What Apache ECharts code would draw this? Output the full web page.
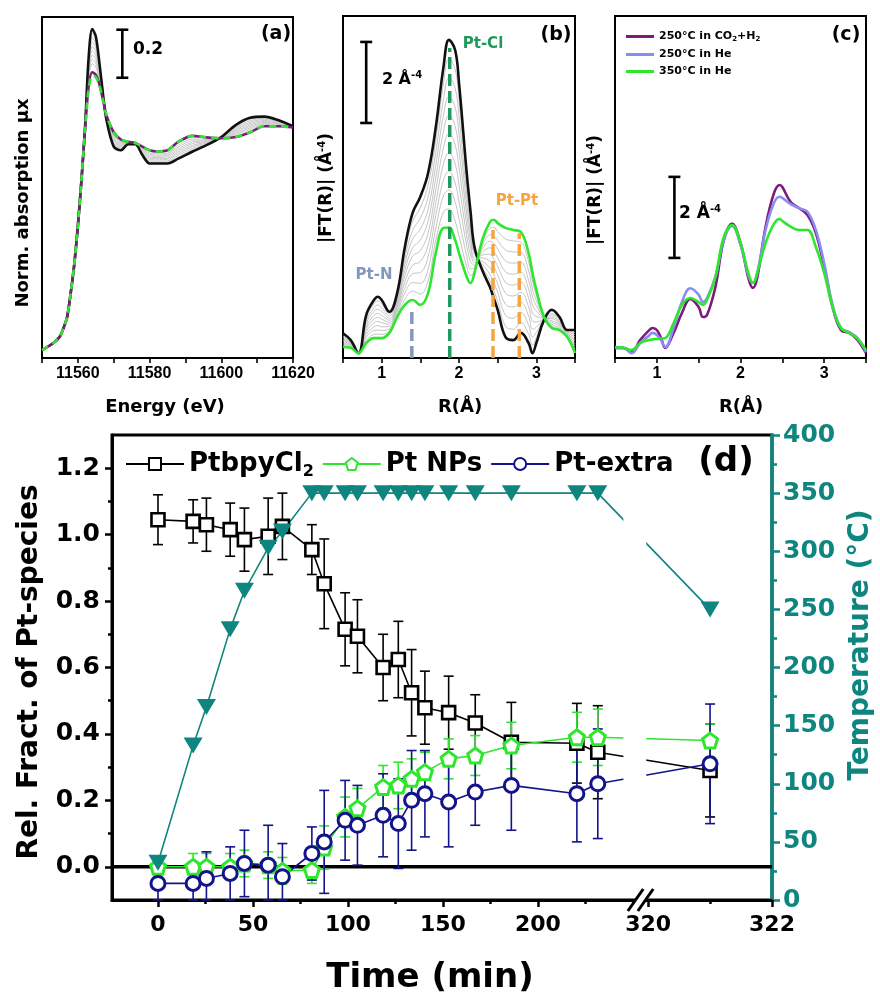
<!DOCTYPE html>
<html><head><meta charset="utf-8">
<script src="https://cdn.jsdelivr.net/npm/echarts@6/dist/echarts.min.js"></script>
<style>html,body{margin:0;padding:0;background:#fff}#c{width:880px;height:1001px}</style>
</head><body><div id="c"></div>
<script>
// ---------- Panel (a): XANES ----------
const E_A = [11550,11553,11555,11556,11557,11558,11559,11560,11561,11562,11563,11564,11565,11566,11567,11568,11570,11572,11574,11576,11578,11580,11582,11585,11588,11592,11595,11600,11604,11608,11612,11616,11620];
const A_BLACK  = [.033,.06,.09,.125,.17,.27,.39,.55,.74,.96,1.25,1.37,1.34,1.23,1.10,.99,.88,.865,.89,.89,.845,.81,.81,.81,.83,.86,.88,.92,.97,1.0,1.005,.99,.965];
const A_PURPLE = [.033,.06,.09,.125,.17,.27,.39,.55,.74,.95,1.13,1.19,1.18,1.14,1.075,1.01,.94,.91,.90,.895,.88,.865,.86,.865,.90,.925,.92,.915,.92,.94,.965,.965,.96];
const A_GREEN  = [.033,.06,.09,.125,.17,.27,.39,.55,.74,.95,1.12,1.175,1.17,1.135,1.075,1.01,.94,.91,.90,.895,.88,.865,.86,.865,.90,.925,.92,.915,.92,.94,.965,.965,.96];
const A_GREY1 = [.033,.06,.09,.125,.17,.27,.39,.55,.74,.959,1.238,1.352,1.324,1.221,1.098,.992,.886,.874,.891,.891,.849,.816,.815,.816,.837,.867,.884,.920,.965,.994,1.001,.988,.965];
const A_GREY2 = [.033,.06,.09,.125,.17,.27,.39,.55,.74,.958,1.226,1.334,1.308,1.212,1.095,.994,.892,.878,.892,.891,.852,.821,.820,.821,.844,.873,.888,.919,.960,.988,.997,.985,.964];
const A_GREY3 = [.033,.06,.09,.125,.17,.27,.39,.55,.74,.957,1.214,1.316,1.292,1.203,1.093,.996,.898,.882,.893,.892,.856,.827,.825,.827,.851,.880,.892,.919,.955,.982,.993,.983,.964];
const A_GREY4 = [.033,.06,.09,.125,.17,.27,.39,.55,.74,.956,1.202,1.298,1.276,1.194,1.090,.998,.904,.886,.894,.892,.859,.832,.830,.832,.858,.886,.896,.918,.950,.976,.989,.980,.963];
const A_GREY5 = [.033,.06,.09,.125,.17,.27,.39,.55,.74,.955,1.190,1.280,1.260,1.185,1.088,1.000,.910,.890,.895,.893,.863,.838,.835,.838,.865,.893,.900,.918,.945,.970,.985,.978,.963];
const A_GREY6 = [.033,.06,.09,.125,.17,.27,.39,.55,.74,.954,1.178,1.262,1.244,1.176,1.085,1.002,.916,.894,.896,.893,.866,.843,.840,.843,.872,.899,.904,.917,.940,.964,.981,.975,.962];
const A_GREY7 = [.033,.06,.09,.125,.17,.27,.39,.55,.74,.953,1.166,1.244,1.228,1.167,1.083,1.004,.922,.898,.897,.894,.870,.849,.845,.849,.879,.906,.908,.917,.935,.958,.977,.973,.962];
const A_GREY8 = [.033,.06,.09,.125,.17,.27,.39,.55,.74,.952,1.154,1.226,1.212,1.158,1.080,1.006,.928,.902,.898,.894,.873,.854,.850,.854,.886,.912,.912,.916,.930,.952,.973,.970,.961];
const A_GREYS = [A_GREY1,A_GREY2,A_GREY3,A_GREY4,A_GREY5,A_GREY6,A_GREY7,A_GREY8];
const A_SCALE = [11572.4, 1.167, 1.367]; // x, from, to (0.2 units)

// ---------- Panel (b): FT during heating ----------
const R_B = [0.5,0.6,0.7,0.8,0.9,0.95,1.0,1.1,1.2,1.3,1.4,1.5,1.6,1.7,1.8,1.87,1.95,2.0,2.1,2.15,2.2,2.3,2.4,2.45,2.5,2.6,2.7,2.8,2.9,2.95,3.0,3.1,3.2,3.3,3.4,3.5];
const B_BLACK = [.61,.44,.12,1.06,1.43,1.51,1.43,1.14,1.6,2.74,3.58,3.98,4.56,5.7,7.19,7.85,7.6,6.79,4.56,3.6,2.74,2.17,1.75,1.47,1.19,.52,.44,.62,.37,.12,.37,.94,1.19,1.01,.69,.69];
const B_GREEN = [.27,.25,.12,.37,.49,.49,.49,.62,1.01,1.31,1.43,1.31,1.6,2.59,3.21,3.22,2.91,2.59,2.0,1.85,2.1,2.91,3.36,3.41,3.33,3.21,3.16,3.11,2.59,2.1,1.68,1.01,.74,.69,.52,.12];
const B_GREY1 = [.58,.42,.12,.99,1.34,1.41,1.34,1.09,1.54,2.60,3.37,3.71,4.26,5.39,6.79,7.39,7.13,6.37,4.30,3.43,2.68,2.24,1.91,1.66,1.40,.79,.71,.87,.59,.32,.50,.95,1.15,.98,.67,.63];
const B_GREY2 = [.54,.40,.12,.92,1.24,1.31,1.24,1.04,1.48,2.45,3.15,3.45,3.97,5.08,6.39,6.92,6.66,5.95,4.05,3.25,2.61,2.32,2.07,1.86,1.62,1.06,.98,1.12,.81,.52,.63,.95,1.10,.95,.66,.58];
const B_GREY3 = [.51,.38,.12,.85,1.15,1.20,1.15,.98,1.42,2.31,2.94,3.18,3.67,4.77,6.00,6.46,6.19,5.53,3.79,3.08,2.55,2.39,2.23,2.05,1.83,1.33,1.26,1.37,1.04,.71,.76,.96,1.06,.91,.64,.52];
const B_GREY4 = [.47,.36,.12,.78,1.05,1.10,1.05,.93,1.36,2.17,2.72,2.91,3.38,4.46,5.60,6.00,5.72,5.11,3.54,2.90,2.48,2.47,2.39,2.25,2.05,1.60,1.53,1.62,1.26,.91,.89,.97,1.01,.88,.62,.46];
const B_GREY5 = [.44,.35,.12,.72,.96,1.00,.96,.88,1.31,2.03,2.51,2.65,3.08,4.15,5.20,5.54,5.26,4.69,3.28,2.73,2.42,2.54,2.56,2.44,2.26,1.87,1.80,1.87,1.48,1.11,1.03,.98,.97,.85,.61,.41];
const B_GREY6 = [.41,.33,.12,.65,.87,.90,.87,.83,1.25,1.88,2.29,2.38,2.78,3.83,4.80,5.07,4.79,4.27,3.02,2.55,2.36,2.61,2.72,2.63,2.47,2.13,2.07,2.11,1.70,1.31,1.16,.98,.92,.82,.59,.35];
const B_GREY7 = [.37,.31,.12,.58,.77,.80,.77,.78,1.19,1.74,2.08,2.11,2.49,3.52,4.40,4.61,4.32,3.85,2.77,2.38,2.29,2.69,2.88,2.83,2.69,2.40,2.34,2.36,1.92,1.51,1.29,.99,.88,.79,.57,.29];
const B_GREY8 = [.34,.29,.12,.51,.68,.69,.68,.72,1.13,1.60,1.86,1.84,2.19,3.21,4.01,4.15,3.85,3.43,2.51,2.20,2.23,2.76,3.04,3.02,2.90,2.67,2.62,2.61,2.15,1.70,1.42,1.00,.83,.75,.55,.23];
const B_GREY9 = [.30,.27,.12,.44,.58,.59,.58,.67,1.07,1.45,1.65,1.58,1.90,2.90,3.61,3.68,3.38,3.01,2.26,2.03,2.16,2.84,3.20,3.22,3.12,2.94,2.89,2.86,2.37,1.90,1.55,1.00,.79,.72,.54,.18];
const B_GREYS = [B_GREY1,B_GREY2,B_GREY3,B_GREY4,B_GREY5,B_GREY6,B_GREY7,B_GREY8,B_GREY9];
const B_MARK_NAMES = ['Pt-N','Pt-Cl','Pt-Pt','Pt-Pt'];
const B_MARK_R     = [1.39, 1.88, 2.44, 2.78];
const B_MARK_TOP   = [1.23, 7.65, 3.16, 3.08];
const B_SCALE = [0.80, 5.80, 7.80];

// ---------- Panel (c): final FT ----------
const R_C = [0.5,0.6,0.7,0.8,0.9,0.95,1.0,1.05,1.1,1.2,1.3,1.4,1.5,1.55,1.6,1.7,1.8,1.9,2.0,2.1,2.15,2.2,2.3,2.4,2.47,2.5,2.6,2.7,2.8,2.9,3.0,3.1,3.2,3.3,3.4,3.5];
const C_NAMES = ['250°C in CO2+H2','250°C in He','350°C in He'];
const C_PURPLE = [.25,.25,.15,.44,.67,.74,.69,.49,.25,.62,1.11,1.46,1.26,1.01,1.06,1.75,2.91,3.31,2.84,1.93,1.73,1.98,3.24,4.07,4.27,4.22,3.85,3.7,3.53,3.09,2.25,1.26,.69,.62,.44,.12];
const C_BLUE   = [.25,.25,.12,.37,.54,.62,.57,.44,.27,.74,1.38,1.72,1.56,1.38,1.48,2.0,2.91,3.26,2.79,2.0,1.85,2.1,3.16,3.83,3.98,3.95,3.8,3.7,3.61,3.16,2.34,1.31,.74,.64,.49,.15];
const C_GREEN  = [.27,.25,.2,.37,.44,.46,.47,.48,.49,.86,1.31,1.48,1.38,1.31,1.43,2.0,2.99,3.28,2.84,2.05,1.85,2.1,2.84,3.31,3.43,3.38,3.24,3.16,3.16,2.74,2.1,1.26,.74,.62,.47,.2];
const C_SCALE = [1.21, 2.47, 4.47];

// ---------- Panel (d): LCF fractions vs time ----------
const TIME      = [0,18.5,25.5,38,45.5,58,65.5,81,87.5,98.5,105,118.5,126.5,133.5,140.5,153,167,186,220.5,231.5,321];
const PTBPY     = [1.045,1.04,1.03,1.015,0.985,0.995,1.025,0.955,0.852,0.715,0.694,0.60,0.624,0.524,0.479,0.464,0.433,0.375,0.372,0.345,0.29];
const PTBPY_ERR = [0.075,0.065,0.08,0.08,0.095,0.115,0.10,0.075,0.135,0.11,0.11,0.10,0.115,0.13,0.11,0.11,0.085,0.12,0.12,0.14,0.14];
const PTNP      = [0.0,0.0,0.0,0.0,0.01,0.005,-0.012,-0.01,0.058,0.15,0.176,0.24,0.245,0.265,0.285,0.325,0.335,0.365,0.39,0.39,0.38];
const PTNP_ERR  = [0.03,0.04,0.04,0.04,0.04,0.04,0.04,0.04,0.065,0.06,0.06,0.065,0.07,0.06,0.06,0.06,0.06,0.07,0.075,0.085,0.05];
const PTEX      = [-0.05,-0.05,-0.035,-0.02,0.01,0.005,-0.03,0.04,0.075,0.14,0.125,0.155,0.13,0.2,0.22,0.195,0.225,0.245,0.22,0.25,0.31];
const PTEX_ERR  = [0.06,0.065,0.08,0.08,0.1,0.12,0.1,0.08,0.155,0.12,0.12,0.125,0.135,0.15,0.13,0.135,0.1,0.135,0.145,0.165,0.18];
const TEMP      = [32,133,166,233,266,303,317,350,350,350,350,350,350,350,350,350,350,350,350,350,250];
const D_NAMES   = ['PtbpyCl2','Pt NPs','Pt-extra'];
const X_MAJOR   = [0,50,100,150,200,320,322];
const X_MINOR   = [25,75,125,175,225,321];
const Y_MAJOR   = [0,0.2,0.4,0.6,0.8,1.0,1.2];
const Y_MINOR   = [0.1,0.3,0.5,0.7,0.9,1.1];

// broken time axis: linear up to the break, then a stretched segment
const BREAK_FROM = 250, BREAK_TO = 320, POST_START = 258, POST_SCALE = 32.6;
function tu(t){ return t <= BREAK_FROM ? t : POST_START + POST_SCALE*(t - BREAK_TO); }
const X_MIN = -24.2, X_MAX = tu(322);
const BREAK_U = (tu(BREAK_FROM) + tu(BREAK_TO))/2;
const GAP_U = [245, 257];

// ---------- styling ----------
const FD = 'DejaVu Sans', FL = 'Liberation Sans';
const TEAL = '#0f857f', LIME = '#2fe62f', PURPLE = '#7b1b7b', LAV = '#8a8cf0', NAVY = '#13138a';
const PENT = 'path://M0,-10 L9.51,-3.09 L5.88,8.09 L-5.88,8.09 L-9.51,-3.09 Z';

function pairs(xs, ys){ return xs.map((x,i)=>[x, ys[i]]); }

const series = [];
// panel a
A_GREYS.forEach(g => series.push({type:'line', xAxisIndex:0, yAxisIndex:0, data:pairs(E_A,g), symbol:'none', smooth:0.3, silent:true, lineStyle:{color:'#c9c9c9', width:1}}));
series.push({type:'line', xAxisIndex:0, yAxisIndex:0, data:pairs(E_A,A_BLACK), symbol:'none', smooth:0.3, lineStyle:{color:'#111', width:2.6}});
series.push({type:'line', xAxisIndex:0, yAxisIndex:0, data:pairs(E_A,A_PURPLE), symbol:'none', smooth:0.3, lineStyle:{color:PURPLE, width:2.6}});
series.push({type:'line', xAxisIndex:0, yAxisIndex:0, data:pairs(E_A,A_GREEN), symbol:'none', smooth:0.3, lineStyle:{color:LIME, width:2.6, type:[7,5]}});
// panel b
B_GREYS.forEach(g => series.push({type:'line', xAxisIndex:1, yAxisIndex:1, data:pairs(R_B,g), symbol:'none', smooth:0.4, silent:true, lineStyle:{color:'#bdbdbd', width:0.9}}));
series.push({type:'line', xAxisIndex:1, yAxisIndex:1, data:pairs(R_B,B_BLACK), symbol:'none', smooth:0.4, lineStyle:{color:'#111', width:2.6}});
series.push({type:'line', xAxisIndex:1, yAxisIndex:1, data:pairs(R_B,B_GREEN), symbol:'none', smooth:0.4, lineStyle:{color:LIME, width:2.6}});
const markColors = {'Pt-N':'#8497bd','Pt-Cl':'#1f9a5f','Pt-Pt':'#f6a341'};
B_MARK_R.forEach((r,i) => series.push({type:'line', xAxisIndex:1, yAxisIndex:1, data:[[r,0],[r,B_MARK_TOP[i]]], symbol:'none', silent:true, z:4,
  lineStyle:{color:markColors[B_MARK_NAMES[i]], width:3.5, type:[12,5]}}));
// panel c
[[C_PURPLE,PURPLE],[C_BLUE,LAV],[C_GREEN,LIME]].forEach((p,i) => series.push({type:'line', name:C_NAMES[i], xAxisIndex:2, yAxisIndex:2, data:pairs(R_C,p[0]), symbol:'none', smooth:0.4, lineStyle:{color:p[1], width:2.6}, itemStyle:{color:p[1]}}));

function barShape(a, b, hw, color, lw){
  return [
    {type:'line', shape:{x1:a[0],y1:a[1],x2:b[0],y2:b[1]}, style:{stroke:color, lineWidth:lw}},
    {type:'line', shape:{x1:a[0]-hw,y1:a[1],x2:a[0]+hw,y2:a[1]}, style:{stroke:color, lineWidth:lw}},
    {type:'line', shape:{x1:b[0]-hw,y1:b[1],x2:b[0]+hw,y2:b[1]}, style:{stroke:color, lineWidth:lw}}
  ];
}
function scaleBar(xi, yi, s){
  return {type:'custom', xAxisIndex:xi, yAxisIndex:yi, silent:true, z:5, data:[s],
    renderItem:(p,api)=>{ const a=api.coord([api.value(0),api.value(2)]), b=api.coord([api.value(0),api.value(1)]);
      return {type:'group', children:barShape(a,b,6,'#000',2.6)}; }};
}
series.push(scaleBar(0,0,A_SCALE), scaleBar(1,1,B_SCALE), scaleBar(2,2,C_SCALE));

// panel d
series.push({type:'line', xAxisIndex:3, yAxisIndex:3, data:[[X_MIN,0],[X_MAX,0]], symbol:'none', silent:true, z:1, lineStyle:{color:'#000', width:3.5}});
function errSeries(vals, errs, color){
  return {type:'custom', xAxisIndex:3, yAxisIndex:3, silent:true, z:2,
    data: TIME.map((t,i)=>[tu(t), vals[i], errs[i]]),
    renderItem:(p,api)=>{ const x=api.value(0), y=api.value(1), e=api.value(2);
      const a=api.coord([x,y+e]), b=api.coord([x,Math.max(y-e,-0.1)]);
      return {type:'group', children:barShape(a,b,5,color,1.6)}; }};
}
function dataSeries(name, vals, color, symbol, size, bw){
  return {type:'line', name, xAxisIndex:3, yAxisIndex:3, z:2, data:TIME.map((t,i)=>[tu(t), vals[i]]),
    symbol, symbolSize:size, showAllSymbol:true,
    lineStyle:{color, width:1.6}, itemStyle:{color:'#fff', borderColor:color, borderWidth:bw}};
}
series.push(errSeries(PTBPY, PTBPY_ERR, '#000'), dataSeries(D_NAMES[0], PTBPY, '#000', 'rect', 13, 2.6));
series.push(errSeries(PTNP, PTNP_ERR, LIME), dataSeries(D_NAMES[1], PTNP, LIME, PENT, 15, 3));
series.push(errSeries(PTEX, PTEX_ERR, NAVY), dataSeries(D_NAMES[2], PTEX, NAVY, 'circle', 14, 3));
series.push({type:'line', xAxisIndex:3, yAxisIndex:4, z:2, data:TIME.map((t,i)=>[tu(t), TEMP[i]]),
  symbol:'triangle', symbolRotate:180, symbolSize:[19,16], lineStyle:{color:TEAL, width:1.6}, itemStyle:{color:TEAL}});
// gap in connecting lines across the axis break
series.push({type:'custom', xAxisIndex:3, yAxisIndex:3, silent:true, z:3, data:[[GAP_U[0], GAP_U[1]]],
  renderItem:(p,api)=>{ const a=api.coord([api.value(0),1.25]), b=api.coord([api.value(1),0.05]);
    return {type:'rect', shape:{x:a[0],y:a[1],width:b[0]-a[0],height:b[1]-a[1]}, style:{fill:'#fff'}}; }});
// break mark on the time axis
series.push({type:'custom', xAxisIndex:3, yAxisIndex:3, silent:true, z:6, clip:false, data:[[BREAK_U,-0.1]],
  renderItem:(p,api)=>{ const c=api.coord([api.value(0),api.value(1)]); const x=c[0], y=c[1], k=0.7;
    return {type:'group', children:[
      {type:'polygon', shape:{points:[[x-5+k*3,y-3],[x+5+k*3,y-3],[x+5-k*3,y+3],[x-5-k*3,y+3]]}, style:{fill:'#fff'}},
      {type:'line', shape:{x1:x-5-k*11,y1:y+11,x2:x-5+k*11,y2:y-11}, style:{stroke:'#000', lineWidth:3}},
      {type:'line', shape:{x1:x+5-k*11,y1:y+11,x2:x+5+k*11,y2:y-11}, style:{stroke:'#000', lineWidth:3}}
    ]}; }});

const smallAxisX = (idx, min, max, interval, fmt) => ({gridIndex:idx, type:'value', min, max, interval,
  axisLine:{onZero:false, lineStyle:{color:'#000', width:2}}, axisTick:{inside:false, length:5, lineStyle:{color:'#000', width:1.6}},
  axisLabel:{formatter:fmt, color:'#000', fontFamily:FL, fontWeight:'bold', fontSize:16, margin:8, hideOverlap:false, showMinLabel:true, showMaxLabel:true},
  splitLine:{show:false}});
const hiddenY = (idx, min, max) => ({gridIndex:idx, type:'value', min, max, show:false, axisLine:{onZero:false}, splitLine:{show:false}});
const isInt = v => Math.abs(v - Math.round(v)) < 1e-6;

const xLabelOf = v => { const t = X_MAJOR.find(t => Math.abs(tu(t)-v) < 0.01); return t === undefined ? '' : String(t); };

const option = {
  animation:false,
  backgroundColor:'#fff',
  grid:[
    {left:42, top:17, width:251, height:341, show:true, borderColor:'#000', borderWidth:2},
    {left:343, top:16, width:232, height:342, show:true, borderColor:'#000', borderWidth:2},
    {left:615, top:16, width:251, height:342, show:true, borderColor:'#000', borderWidth:2},
    {left:112, top:435, width:660, height:465, show:true, borderColor:'#000', borderWidth:3}
  ],
  xAxis:[
    smallAxisX(0, 11550, 11620, 10, v => (v % 20 === 0) ? String(v) : ''),
    smallAxisX(1, 0.5, 3.5, 0.5, v => isInt(v) ? String(Math.round(v)) : ''),
    smallAxisX(2, 0.5, 3.5, 0.5, v => isInt(v) ? String(Math.round(v)) : ''),
    {gridIndex:3, type:'value', min:X_MIN, max:X_MAX, position:'bottom',
      axisLine:{onZero:false, lineStyle:{color:'#000', width:3}},
      axisTick:{customValues:X_MAJOR.map(tu), length:7, lineStyle:{color:'#000', width:2.5}},
      axisLabel:{customValues:X_MAJOR.map(tu), formatter:xLabelOf, color:'#000', fontFamily:FD, fontWeight:'bold', fontSize:22, margin:14, hideOverlap:false},
      splitLine:{show:false}},
    {gridIndex:3, type:'value', min:X_MIN, max:X_MAX, position:'bottom', offset:0,
      axisLine:{show:false, onZero:false}, axisLabel:{show:false}, splitLine:{show:false},
      axisTick:{customValues:X_MINOR.map(tu), length:4, lineStyle:{color:'#000', width:2.5}}}
  ],
  yAxis:[
    hiddenY(0, 0, 1.42), hiddenY(1, 0, 8.44), hiddenY(2, 0, 8.44),
    {gridIndex:3, type:'value', min:-0.1, max:1.3, position:'left',
      axisLine:{onZero:false, lineStyle:{color:'#000', width:3}},
      axisTick:{customValues:Y_MAJOR, length:7, lineStyle:{color:'#000', width:2.5}},
      axisLabel:{customValues:Y_MAJOR, formatter:v=>v.toFixed(1), color:'#000', fontFamily:FD, fontWeight:'bold', fontSize:25, margin:12},
      splitLine:{show:false}},
    {gridIndex:3, type:'value', min:0, max:400, interval:50, position:'right',
      axisLine:{onZero:false, lineStyle:{color:TEAL, width:3.5}},
      axisTick:{length:8, lineStyle:{color:TEAL, width:2.5}},
      minorTick:{show:true, splitNumber:2, length:5, lineStyle:{color:TEAL, width:2.5}},
      axisLabel:{color:TEAL, fontFamily:FD, fontWeight:'bold', fontSize:25, margin:11},
      splitLine:{show:false}, minorSplitLine:{show:false}},
    {gridIndex:3, type:'value', min:-0.1, max:1.3, position:'left', offset:0,
      axisLine:{show:false, onZero:false}, axisLabel:{show:false}, splitLine:{show:false},
      axisTick:{customValues:Y_MINOR, length:4, lineStyle:{color:'#000', width:2.5}}}
  ],
  legend:[
    {data:D_NAMES, left:120, top:446, itemWidth:58, itemHeight:15, itemGap:8, selectedMode:false,
      formatter:n => n === 'PtbpyCl2' ? '{n|PtbpyCl}{s|2}' : '{n|' + n + '}',
      textStyle:{color:'#000', fontFamily:FD, fontWeight:'bold', fontSize:26,
        rich:{n:{fontFamily:FD, fontWeight:'bold', fontSize:26, color:'#000'}, s:{fontFamily:FD, fontWeight:'bold', fontSize:16, color:'#000', padding:[16,0,0,0]}}}},
    {data:C_NAMES, left:621, top:26, orient:'vertical', icon:'rect', itemWidth:28, itemHeight:3, itemGap:6, selectedMode:false,
      formatter:n => n === C_NAMES[0] ? '{n|250°C in CO}{s|2}{n|+H}{s|2}' : '{n|' + n + '}',
      textStyle:{color:'#000', fontFamily:FD, fontWeight:'bold', fontSize:11,
        rich:{n:{fontFamily:FD, fontWeight:'bold', fontSize:11, color:'#000'}, s:{fontFamily:FD, fontWeight:'bold', fontSize:7, color:'#000', padding:[6,0,0,0]}}}}
  ],
  graphic:[
    {type:'text', x:23, y:203, rotation:Math.PI/2, style:{text:'Norm. absorption μx', fontFamily:FD, fontWeight:'bold', fontSize:18, fill:'#000', align:'center', verticalAlign:'middle'}},
    {type:'text', x:165, y:407, style:{text:'Energy (eV)', fontFamily:FD, fontWeight:'bold', fontSize:18, fill:'#000', align:'center', verticalAlign:'middle'}},
    {type:'text', x:460, y:407, style:{text:'R(Å)', fontFamily:FD, fontWeight:'bold', fontSize:18, fill:'#000', align:'center', verticalAlign:'middle'}},
    {type:'text', x:741, y:407, style:{text:'R(Å)', fontFamily:FD, fontWeight:'bold', fontSize:18, fill:'#000', align:'center', verticalAlign:'middle'}},
    {type:'text', x:327, y:188, rotation:Math.PI/2, style:{text:'{n||FT(R)| (Å}{s|-4}{n|)}', fill:'#000', align:'center', verticalAlign:'middle',
      rich:{n:{fontFamily:FD, fontWeight:'bold', fontSize:17, fill:'#000'}, s:{fontFamily:FD, fontWeight:'bold', fontSize:10, padding:[0,0,9,0]}}}},
    {type:'text', x:596, y:190, rotation:Math.PI/2, style:{text:'{n||FT(R)| (Å}{s|-4}{n|)}', fill:'#000', align:'center', verticalAlign:'middle',
      rich:{n:{fontFamily:FD, fontWeight:'bold', fontSize:17, fill:'#000'}, s:{fontFamily:FD, fontWeight:'bold', fontSize:10, padding:[0,0,9,0]}}}},
    {type:'text', x:148, y:50, style:{text:'0.2', fontFamily:FD, fontWeight:'bold', fontSize:17, fill:'#000', align:'center', verticalAlign:'middle'}},
    {type:'text', x:402, y:80, style:{text:'{n|2 Å}{s|-4}', align:'center', verticalAlign:'middle',
      rich:{n:{fontFamily:FD, fontWeight:'bold', fontSize:16, fill:'#000'}, s:{fontFamily:FD, fontWeight:'bold', fontSize:10, padding:[0,0,9,0]}}}},
    {type:'text', x:700, y:214, style:{text:'{n|2 Å}{s|-4}', align:'center', verticalAlign:'middle',
      rich:{n:{fontFamily:FD, fontWeight:'bold', fontSize:17, fill:'#000'}, s:{fontFamily:FD, fontWeight:'bold', fontSize:10, padding:[0,0,9,0]}}}},
    {type:'text', x:276, y:34, style:{text:'(a)', fontFamily:FD, fontWeight:'bold', fontSize:19, fill:'#000', align:'center', verticalAlign:'middle'}},
    {type:'text', x:556, y:35, style:{text:'(b)', fontFamily:FD, fontWeight:'bold', fontSize:19, fill:'#000', align:'center', verticalAlign:'middle'}},
    {type:'text', x:846, y:35, style:{text:'(c)', fontFamily:FD, fontWeight:'bold', fontSize:19, fill:'#000', align:'center', verticalAlign:'middle'}},
    {type:'text', x:483, y:44, style:{text:'Pt-Cl', fontFamily:FD, fontWeight:'bold', fontSize:15, fill:'#1f9a5f', align:'center', verticalAlign:'middle'}},
    {type:'text', x:517, y:201, style:{text:'Pt-Pt', fontFamily:FD, fontWeight:'bold', fontSize:15, fill:'#f6a341', align:'center', verticalAlign:'middle'}},
    {type:'text', x:374, y:275, style:{text:'Pt-N', fontFamily:FD, fontWeight:'bold', fontSize:15, fill:'#8497bd', align:'center', verticalAlign:'middle'}},
    {type:'text', x:726, y:462, style:{text:'(d)', fontFamily:FD, fontWeight:'bold', fontSize:34, fill:'#000', align:'center', verticalAlign:'middle'}},
    {type:'text', x:430, y:978, style:{text:'Time (min)', fontFamily:FD, fontWeight:'bold', fontSize:34, fill:'#000', align:'center', verticalAlign:'middle'}},
    {type:'text', x:30, y:672, rotation:Math.PI/2, style:{text:'Rel. Fract. of Pt-species', fontFamily:FD, fontWeight:'bold', fontSize:28, fill:'#000', align:'center', verticalAlign:'middle'}},
    {type:'text', x:861, y:645, rotation:Math.PI/2, style:{text:'Temperature (°C)', fontFamily:FD, fontWeight:'bold', fontSize:28, fill:TEAL, align:'center', verticalAlign:'middle'}}
  ],
  series
};
const chart = echarts.init(document.getElementById('c'), null, {renderer:'canvas'});
chart.setOption(option);
</script></body></html>
